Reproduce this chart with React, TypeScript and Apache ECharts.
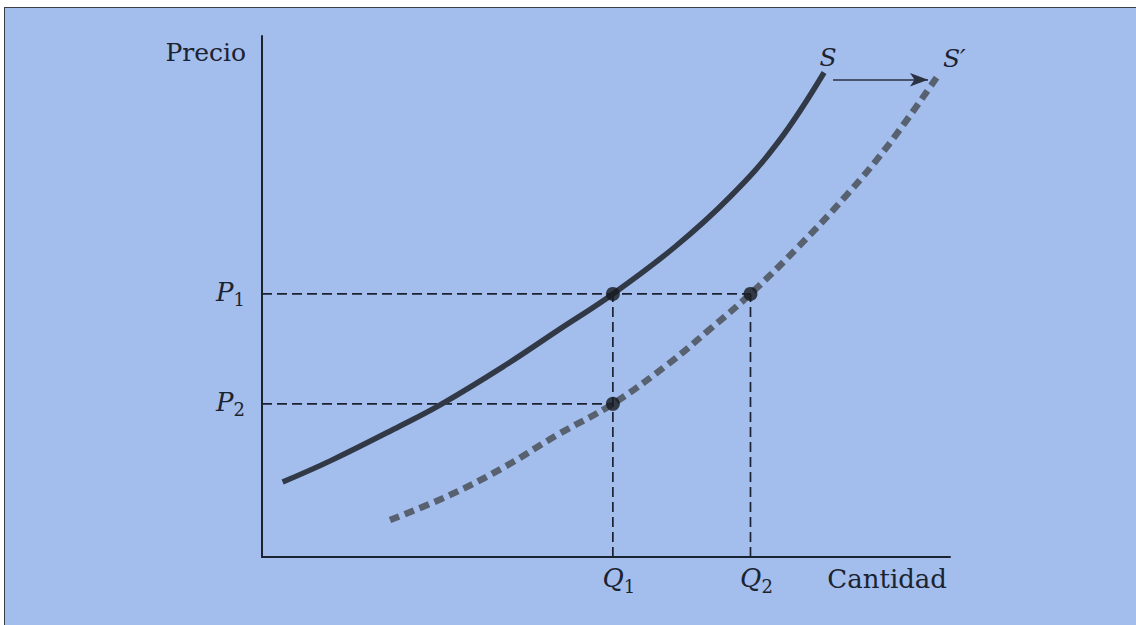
import React, { useEffect, useRef } from "react";
import * as echarts from "echarts";

// Equilibrium quantities / prices (axis units 0..10)
const Q_VALUES = [5.1, 7.1]; // Q1, Q2
const P_VALUES = [5.05, 2.94]; // P1, P2
const Q_LABELS = ["1", "2"];
const P_LABELS = ["1", "2"];

// Supply curve S (quantity, price)
const S_X = [0.3, 1.0, 2.0, 2.59, 3.5, 4.3, 5.1, 6.0, 6.8, 7.5, 8.17];
const S_Y = [1.44, 1.85, 2.51, 2.92, 3.65, 4.35, 5.05, 5.95, 6.91, 7.96, 9.3];

// Shifted supply curve S'
const S2_X = [1.86, 2.7, 3.5, 4.3, 5.1, 5.9, 6.5, 7.1, 7.8, 8.5, 9.1, 9.83];
const S2_Y = [0.71, 1.17, 1.71, 2.35, 2.94, 3.7, 4.36, 5.05, 5.96, 6.95, 7.9, 9.25];

// Shift arrow (from, to) in axis units
const ARROW_X = [8.3, 9.68];
const ARROW_Y = 9.16;

const SERIF = "DejaVu Serif";
const INK = "#1c2330";

export default function App() {
  const ref = useRef<HTMLDivElement>(null);

  useEffect(() => {
    if (!ref.current) return;
    const chart = echarts.init(ref.current, undefined, { renderer: "svg" });

    const [Q1, Q2] = Q_VALUES;
    const [P1, P2] = P_VALUES;

    const sData = S_X.map((x, i) => [x, S_Y[i]]);
    const s2Data = S2_X.map((x, i) => [x, S2_Y[i]]);

    const guide = (data: number[][]) => ({
      type: "line",
      data,
      symbol: "none",
      silent: true,
      z: 1,
      lineStyle: { color: "#1b2333", width: 1.7, type: [10, 5] },
    });

    const rich = {
      i: { fontFamily: SERIF, fontStyle: "italic", fontSize: 26, color: INK, verticalAlign: "bottom", padding: [0, 0, 4, 0] },
      s: { fontFamily: SERIF, fontSize: 18, color: INK, verticalAlign: "bottom" },
    };

    const endLabel = (text: string, offset: number[]) => ({
      show: true,
      formatter: text,
      fontFamily: SERIF,
      fontStyle: "italic",
      fontSize: 25,
      color: INK,
      align: "center",
      verticalAlign: "bottom",
      distance: 0,
      offset,
    });

    chart.setOption({
      animation: false,
      backgroundColor: "transparent",
      grid: { left: 262, top: 36, right: 186, bottom: 68 },
      xAxis: {
        type: "value",
        min: 0,
        max: 10,
        splitLine: { show: false },
        axisTick: { show: false },
        axisLine: { show: true, onZero: false, lineStyle: { color: INK, width: 2 } },
        axisLabel: {
          show: true,
          customValues: Q_VALUES,
          margin: 8,
          padding: [0, 0, 0, 12],
          formatter: (v: number) => `{i|Q}{s|${Q_LABELS[Q_VALUES.indexOf(v)] ?? ""}}`,
          rich,
        },
        name: "Cantidad",
        nameLocation: "end",
        nameGap: 0,
        nameTextStyle: {
          fontFamily: SERIF,
          fontSize: 26,
          color: INK,
          align: "right",
          verticalAlign: "top",
          padding: [9, 3, 0, 0],
        },
      },
      yAxis: {
        type: "value",
        min: 0,
        max: 10,
        splitLine: { show: false },
        axisTick: { show: false },
        axisLine: { show: true, onZero: false, lineStyle: { color: INK, width: 2 } },
        axisLabel: {
          show: true,
          customValues: P_VALUES,
          margin: 17,
          formatter: (v: number) => `{i|P}{s|${P_LABELS[P_VALUES.indexOf(v)] ?? ""}}`,
          rich,
        },
        name: "Precio",
        nameLocation: "end",
        nameGap: -16,
        nameTextStyle: {
          fontFamily: SERIF,
          fontSize: 25,
          color: INK,
          align: "right",
          verticalAlign: "middle",
          padding: [0, 16, 0, 0],
        },
      },
      series: [
        guide([[0, P1], [Q2, P1]]),
        guide([[0, P2], [Q1, P2]]),
        guide([[Q1, 0], [Q1, P1]]),
        guide([[Q2, 0], [Q2, P1]]),
        {
          type: "line",
          data: s2Data,
          smooth: 0.4,
          symbol: "none",
          z: 2,
          lineStyle: { color: "#58616f", width: 6.5, type: [10, 6], cap: "butt" },
          endLabel: endLabel("S\u2032", [16, -4]),
        },
        {
          type: "line",
          data: sData,
          smooth: 0.4,
          symbol: "none",
          z: 3,
          lineStyle: { color: "#323946", width: 5.5, cap: "butt" },
          endLabel: endLabel("S", [4, -2]),
          markLine: {
            silent: true,
            symbol: ["none", "arrow"],
            symbolSize: [10, 18],
            label: { show: false },
            lineStyle: { color: "#2a3242", width: 1.6, type: "solid" },
            data: [[{ coord: [ARROW_X[0], ARROW_Y] }, { coord: [ARROW_X[1], ARROW_Y] }]],
          },
        },
        {
          type: "scatter",
          data: [[Q1, P1], [Q2, P1], [Q1, P2]],
          symbol: "circle",
          symbolSize: 14,
          z: 5,
          itemStyle: { color: "#15191f" },
        },
      ],
    });

    return () => chart.dispose();
  }, []);

  return (
    <div style={{ position: "absolute", left: 0, top: 0, width: 1136, height: 625, background: "#ffffff", overflow: "hidden" }}>
      <div
        style={{
          position: "absolute",
          left: 4,
          top: 7,
          width: 1132,
          height: 618,
          background: "#a3bdec",
          borderTop: "1.5px solid #3a3f48",
          borderLeft: "1.5px solid #3a3f48",
          boxSizing: "border-box",
        }}
      />
      <div ref={ref} style={{ position: "absolute", left: 0, top: 0, width: 1136, height: 625 }} />
    </div>
  );
}
